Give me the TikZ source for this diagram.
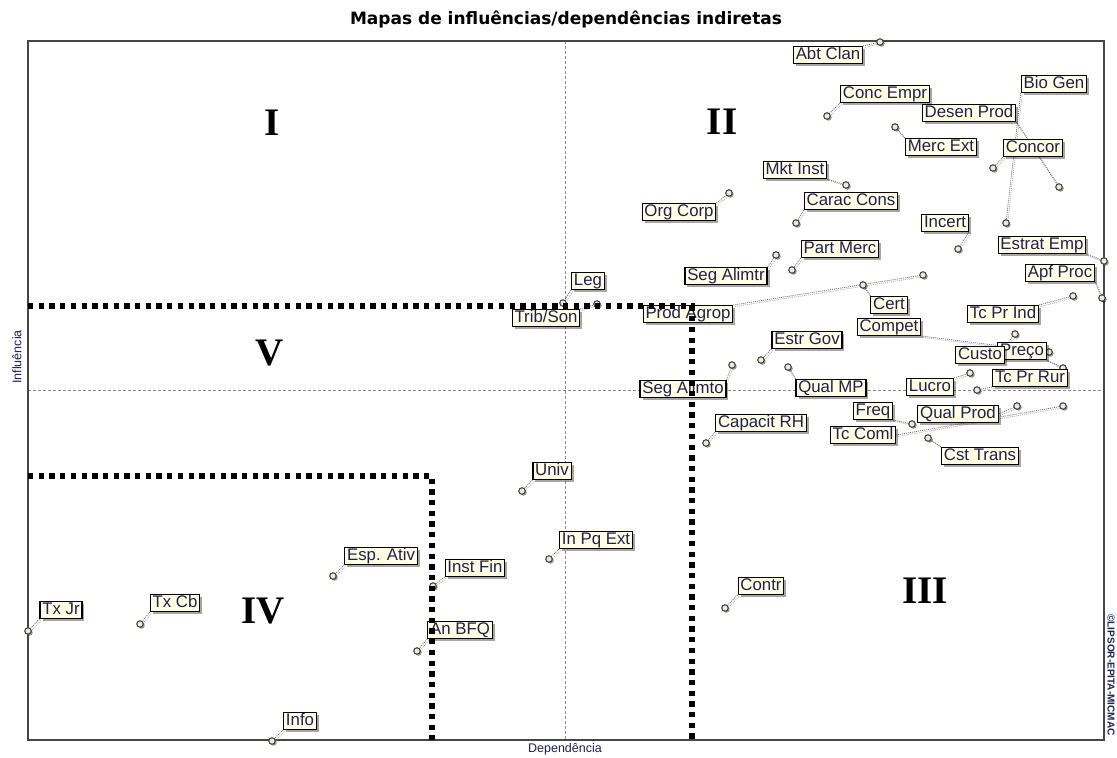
\documentclass[tikz,border=0pt]{standalone}
\usepackage{fontspec}
\setmainfont{Liberation Sans}
\newfontfamily\titlefont{DejaVu Sans}
\newfontfamily\romanfont{Liberation Serif}
\usetikzlibrary{shadows}
\pgfdeclarelayer{bg}
\pgfdeclarelayer{axes}
\pgfdeclarelayer{conn}
\pgfdeclarelayer{pts}
\pgfdeclarelayer{top}
\pgfsetlayers{bg,axes,conn,pts,main,top}
\definecolor{txt}{RGB}{30,30,90}
\definecolor{cream}{RGB}{255,255,225}
\definecolor{frame}{RGB}{70,70,70}
\definecolor{ptfill}{RGB}{235,235,215}
\tikzset{
  lbl/.style={draw=black, line width=1.2pt, fill=cream, text=txt,
    font=\fontsize{16.8}{16.8}\selectfont, inner xsep=2.3pt, inner ysep=0.6pt,
    text height=12.2pt, text depth=3.4pt,
    drop shadow={shadow xshift=2.5pt, shadow yshift=-2.5pt, fill=black, opacity=0.35}},
  ptmark/.style={circle, draw=frame, line width=1.1pt, fill=ptfill,
    minimum size=6.5pt, inner sep=0pt,
    drop shadow={shadow xshift=1.5pt, shadow yshift=-1.5pt, fill=black, opacity=0.4}},
  conn/.style={draw=black!55, line width=0.8pt, dash pattern=on 1pt off 1pt},
  connsh/.style={draw=black!30, line width=0.8pt, dash pattern=on 1pt off 1pt,
    transform canvas={shift={(1.5pt,-1.5pt)}}},
  axisline/.style={draw=black!45, line width=0.6pt, dash pattern=on 3pt off 2pt},
  quadline/.style={draw=black, line width=5.3pt, dash pattern=on 5.3pt off 5.4pt},
  numeral/.style={font=\romanfont\bfseries\fontsize{39}{39}\selectfont, inner sep=0pt, text=black},
  axtitle/.style={font=\fontsize{12.5}{12.5}\selectfont, text=txt, inner sep=0pt},
}
\newcommand\mlab[7]{%
  \node[lbl] (#1) at (#2,#3) {#4};
  \begin{pgfonlayer}{pts}\node[ptmark] (#1p) at (#5,#6) {};\end{pgfonlayer}
  \begin{pgfonlayer}{conn}\draw[connsh] (#1.#7) -- (#1p.center);\draw[conn] (#1.#7) -- (#1p.center);\end{pgfonlayer}
}
\begin{document}
\begin{tikzpicture}[x=1pt,y=-1pt]
\useasboundingbox (0,0) rectangle (1117,758);
\begin{pgfonlayer}{bg}
\fill[white] (0,0) rectangle (1117,758);
\end{pgfonlayer}
% title and axis titles
\node[font=\titlefont\bfseries\fontsize{17}{17}\selectfont, text=black, inner sep=0pt] (title) at (566,19) {Mapas de influências/dependências indiretas};
\node[axtitle, rotate=90] (yt) at (17,357) {Influência};
\node[axtitle] (xt) at (565,749) {Dependência};
\node[font=\bfseries\fontsize{10}{10}\selectfont, text=txt, rotate=-90, inner sep=0pt] (wm) at (1111,675) {©LIPSOR-EPITA-MICMAC};
% frame and axes
\begin{pgfonlayer}{axes}
\draw[axisline] (565,41) -- (565,740);
\draw[axisline] (28,390) -- (1104,390);
\draw[frame, line width=1.3pt] (28,41) rectangle (1104,740);
\end{pgfonlayer}
% labels
\mlab{abt}{828}{55}{Abt Clan}{880}{42}{north east}
\mlab{conc}{885}{94}{Conc Empr}{827}{116}{south west}
\mlab{desen}{969}{113}{Desen Prod}{1059}{187}{south east}
\mlab{bio}{1054}{84}{Bio Gen}{1006}{223}{south west}
\mlab{concor}{1033}{148}{Concor}{993}{168}{south west}
\mlab{merc}{941}{147}{Merc Ext}{895}{127}{north west}
\mlab{mkt}{795}{170}{Mkt Inst}{846}{185}{south east}
\mlab{carac}{851}{201}{Carac Cons}{796}{223}{south west}
\mlab{org}{679}{212}{Org Corp}{729}{193}{north east}
\mlab{incert}{945}{223}{Incert}{958}{249}{south east}
\mlab{estrat}{1042}{245}{Estrat Emp}{1104}{261}{south east}
\mlab{apf}{1060}{273}{Apf Proc}{1102}{298}{south east}
\mlab{part}{840}{249}{Part Merc}{792}{270}{south west}
\mlab{segtr}{726}{276}{Seg Alimtr}{776}{255}{north east}
\mlab{leg}{588}{281}{Leg}{563}{303}{south west}
\mlab{trib}{546}{318}{Trib/Son}{597}{304}{north east}
\mlab{prod}{688}{314}{Prod Agrop}{923}{275}{north east}
\mlab{cert}{889}{305}{Cert}{863}{285}{north west}
\mlab{compet}{889}{327}{Compet}{1049}{352}{south east}
\mlab{tcind}{1003}{314}{Tc Pr Ind}{1073}{296}{north east}
\mlab{preco}{1022}{351}{Preço}{1063}{368}{south east}
\mlab{custo}{980}{355}{Custo}{1015}{334}{north east}
\mlab{tcrur}{1030}{378}{Tc Pr Rur}{977}{390}{south west}
\mlab{lucro}{930}{387}{Lucro}{970}{373}{north east}
\mlab{qualmp}{831}{388}{Qual MP}{788}{367}{north west}
\mlab{freq}{873}{411}{Freq}{912}{424}{south east}
\mlab{tccoml}{863}{435}{Tc Coml}{1063}{406}{east}
\mlab{qualprod}{958}{414}{Qual Prod}{1017}{406}{east}
\mlab{cst}{980}{456}{Cst Trans}{928}{438}{north west}
\mlab{estrgov}{807}{340}{Estr Gov}{761}{360}{south west}
\mlab{segto}{683}{389}{Seg Alimto}{732}{365}{north east}
\mlab{capac}{761}{423}{Capacit RH}{706}{443}{south west}
\mlab{univ}{552}{471}{Univ}{522}{491}{south west}
\mlab{inpq}{596}{540}{In Pq Ext}{549}{559}{south west}
\mlab{esp}{381}{556}{Esp. Ativ}{333}{576}{south west}
\mlab{inst}{475}{568}{Inst Fin}{433}{586}{south west}
\mlab{anbfq}{460}{630}{An BFQ}{417}{651}{south west}
\mlab{info}{300}{721}{Info}{272}{741}{south west}
\mlab{txjr}{61}{610}{Tx Jr}{28}{631}{south west}
\mlab{txcb}{175}{603}{Tx Cb}{140}{624}{south west}
\mlab{contr}{761}{586}{Contr}{725}{608}{south west}
% quadrant borders and numerals
\begin{pgfonlayer}{top}
\draw[quadline] (28,306) -- (692,306) -- (692,740);
\draw[quadline] (28,476) -- (432,476) -- (432,740);
\node[numeral] (q1) at (272,123) {I};
\node[numeral] (q2) at (722,122) {II};
\node[numeral] (q3) at (925,591) {III};
\node[numeral] (q4) at (263,611) {IV};
\node[numeral] (q5) at (270,353) {V};
\end{pgfonlayer}
\end{tikzpicture}
\end{document}
